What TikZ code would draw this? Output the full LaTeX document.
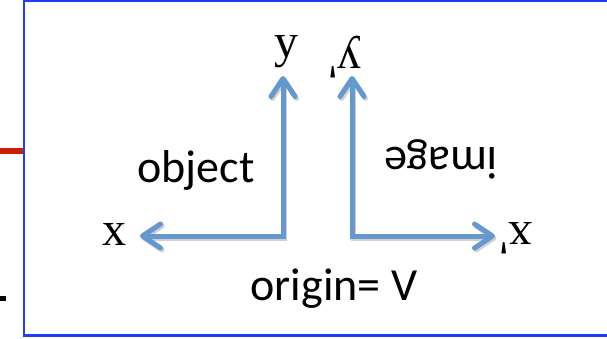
\documentclass[tikz,border=0pt]{standalone}
\usepackage{fontspec}
\setmainfont{Liberation Serif}
\setsansfont{Carlito}
\usepackage{tikz}
\usetikzlibrary{arrows.meta, positioning}
\definecolor{frameblue}{RGB}{30, 60, 250}
\definecolor{axisblue}{RGB}{100, 152, 206}
\definecolor{rayred}{RGB}{205, 30, 5}

\begin{document}
\begin{tikzpicture}[x=1pt, y=1pt,
  axisarrow/.style={axisblue, line width=5pt, line join=miter,
    {Straight Barb[length=18pt, width=24pt, round]}-{Straight Barb[length=18pt, width=24pt, round]}},
  axisshadow/.style={axisarrow, black!18, transform canvas={shift={(1.5pt,-2pt)}}},
  coordlbl/.style={inner sep=0pt, font=\fontsize{48}{52}\selectfont},
  wordlbl/.style={inner sep=0pt, font=\sffamily\fontsize{46}{50}\selectfont}]
  \useasboundingbox (0,0) rectangle (607,338);
  \clip (0,0) rectangle (607,338);

  % bits of the slide outside the box
  \draw[rayred, line width=5.5pt] (0,187) -- (24,187);
  \draw[line width=5pt] (0,39.5) -- (6,39.5);

  % frame, open on the right
  \draw[frameblue, line width=2.5pt] (615,337) -- (24,337) -- (24,2.5) -- (615,2.5);

  % object axes
  \coordinate (objO) at (283,102);
  \coordinate (objY) at (283,262);
  \coordinate (objX) at (140,102);
  \draw[axisshadow] (objY) -- (objO) -- (objX);
  \draw[axisarrow] (objY) -- (objO) -- (objX);
  \node[coordlbl, anchor=base] (objYlbl) at (286,280) {y};
  \node[coordlbl, anchor=base] (objXlbl) at (114,93) {x};
  \node[wordlbl, anchor=base] (objlbl) at (196,156) {object};

  % image axes, turned upside down
  \coordinate (imgO) at (352,102);
  \coordinate (imgY) at (352,262);
  \coordinate (imgX) at (495,102);
  \draw[axisshadow] (imgY) -- (imgO) -- (imgX);
  \draw[axisarrow] (imgY) -- (imgO) -- (imgX);
  \node[coordlbl, anchor=base, rotate=180] (imgYlbl) at (345,291) {y\textquotesingle};
  \node[coordlbl, anchor=base, rotate=180] (imgXlbl) at (516,116) {x\textquotesingle};
  \node[wordlbl, anchor=base, rotate=180] (imglbl) at (441,191) {image};

  \node[wordlbl, anchor=base] (originlbl) at (334,38) {origin= V};
\end{tikzpicture}
\end{document}
